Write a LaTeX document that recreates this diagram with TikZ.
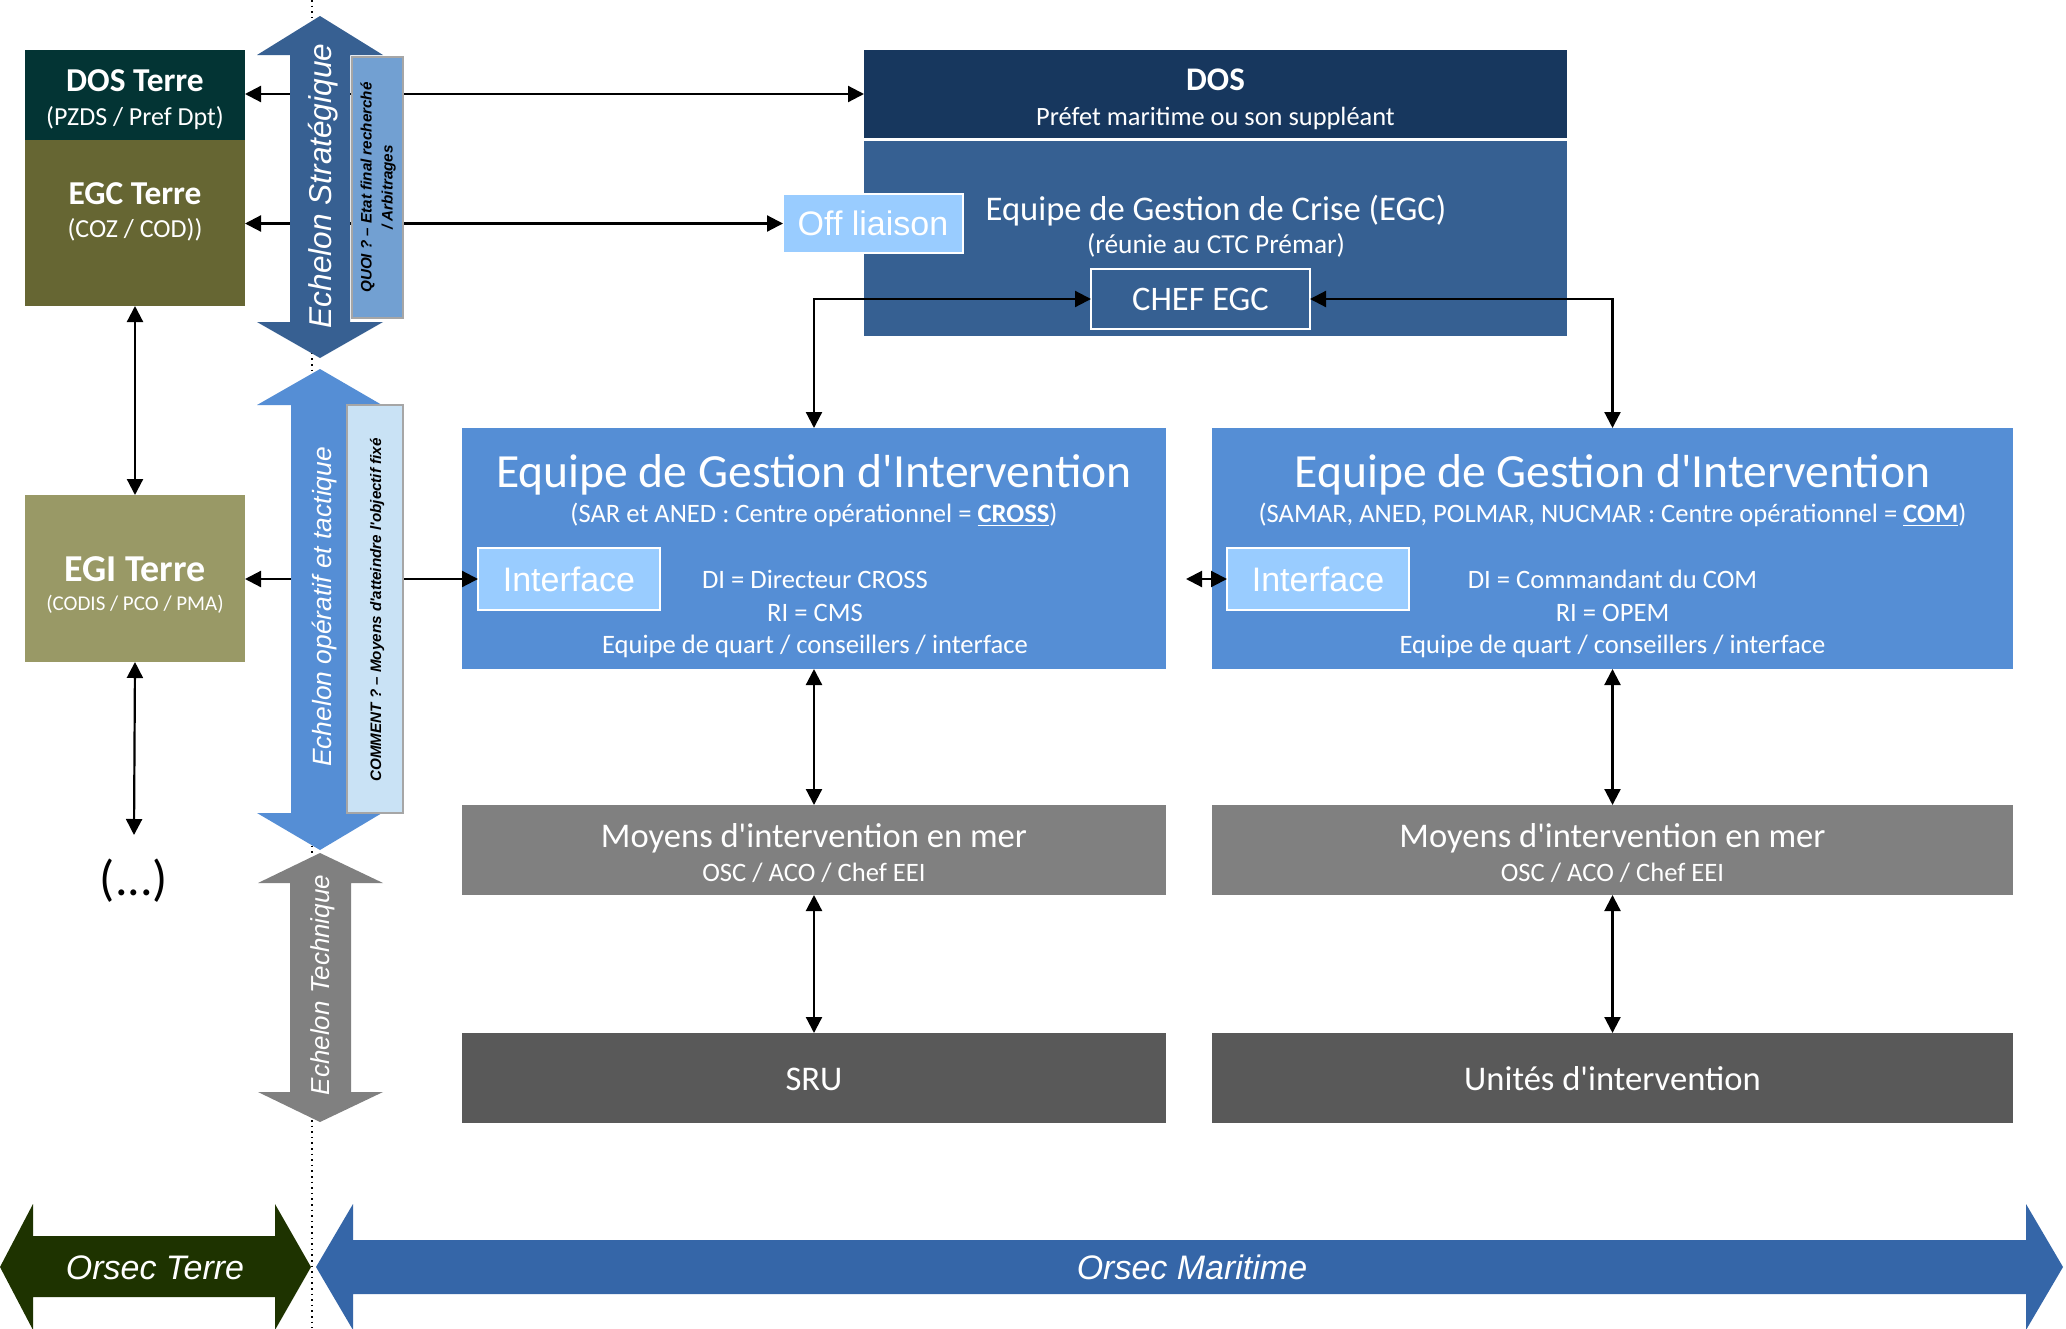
\documentclass[tikz,border=0pt]{standalone}
\usepackage{fontspec}
\setmainfont{Carlito}
\newfontfamily\arial{Liberation Sans}
\usetikzlibrary{arrows.meta}
\definecolor{cDosT}{HTML}{033434}
\definecolor{cEgcT}{HTML}{666633}
\definecolor{cEgiT}{HTML}{999966}
\definecolor{cDos}{HTML}{17375E}
\definecolor{cEgc}{HTML}{366092}
\definecolor{cLight}{HTML}{99CCFF}
\definecolor{cEgi}{HTML}{558ED5}
\definecolor{cMoy}{HTML}{808080}
\definecolor{cSru}{HTML}{595959}
\definecolor{cStrat}{HTML}{376092}
\definecolor{cOper}{HTML}{558ED5}
\definecolor{cTech}{HTML}{808080}
\definecolor{cQuoi}{HTML}{72A0D2}
\definecolor{cComm}{HTML}{C9E2F5}
\definecolor{cOT}{HTML}{1E3300}
\definecolor{cOM}{HTML}{3566A8}
\newcommand\fsz[1]{\fontsize{#1pt}{#1pt}\selectfont}
% text node placed by its visual centre: name, x, y, size(pt), font, text
\newcommand\tx[6]{\node[wtxt, anchor=base, font=#5\fsz{#4}] (#1) at (#2,{#3+0.72*#4}) {#6};}
% rotated (reading upwards) text node by visual centre
\newcommand\rtx[6]{\node[wtxt, anchor=base, rotate=90, font=#5\fsz{#4}] (#1) at ({#2+0.70*#4},#3) {#6};}
\begin{document}
\begin{tikzpicture}[x=0.5pt,y=-0.5pt,
  boxn/.style={inner sep=0pt, outer sep=0pt},
  wtxt/.style={text=white, inner sep=0pt, align=center},
  conn/.style={line width=1.1pt, {Triangle[length=8pt,width=8pt]}-{Triangle[length=8pt,width=8pt]}},
  sidebox/.style={boxn, draw=gray!70, line width=0.8pt}]
\useasboundingbox (0,0) rectangle (2066,1328);
\fill[white] (0,0) rectangle (2066,1328);
% dotted separator
\draw[dotted, line width=0.8pt] (312,0) -- (312,1328);

% ---- left (Terre) boxes
\node[boxn, fill=cDosT, minimum width=110pt, minimum height=45pt] (dosT) at (135,95) {};
\node[boxn, fill=cEgcT, minimum width=110pt, minimum height=83pt] (egcT) at (135,223) {};
\node[boxn, fill=cEgiT, minimum width=110pt, minimum height=83.5pt] (egiT) at (135,578.5) {};
\node[inner sep=0pt, anchor=base, font=\fsz{25}] (etc) at (134,895) {(...)};
\coordinate (etcTop) at (134,835);

% ---- maritime boxes
\node[boxn, fill=cDos, minimum width=351.5pt, minimum height=44pt] (dos) at (1215.5,94) {};
\node[boxn, fill=cEgc, minimum width=351.5pt, minimum height=97.5pt] (egc) at (1215.5,238.5) {};
\node[boxn, fill=cLight, draw=white, line width=1pt, minimum width=90pt, minimum height=29.5pt, text=white, font=\arial\fsz{17}] (offl) at (873,223.5) {Off liaison};
\node[boxn, fill=cEgc, draw=white, line width=1pt, minimum width=109.5pt, minimum height=30pt, text=white, font=\fsz{17.2}] (chef) at (1200.5,299) {CHEF EGC};

\node[boxn, fill=cEgi, minimum width=352pt, minimum height=120.5pt] (egi1) at (814,548.5) {};
\node[boxn, fill=cEgi, minimum width=400.5pt, minimum height=120.5pt] (egi2) at (1612.5,548.5) {};
\node[boxn, fill=cLight, draw=white, line width=1pt, minimum width=91pt, minimum height=31pt, text=white, font=\arial\fsz{17}] (int1) at (569,579) {Interface};
\node[boxn, fill=cLight, draw=white, line width=1pt, minimum width=91pt, minimum height=31pt, text=white, font=\arial\fsz{17}] (int2) at (1318,579) {Interface};
\coordinate (egiLink) at (1186,579);

\node[boxn, fill=cMoy, minimum width=352pt, minimum height=45pt] (moy1) at (814,850) {};
\node[boxn, fill=cMoy, minimum width=400.5pt, minimum height=45pt] (moy2) at (1612.5,850) {};
\node[boxn, fill=cSru, minimum width=352pt, minimum height=45pt] (sru) at (814,1078) {};
\node[boxn, fill=cSru, minimum width=400.5pt, minimum height=45pt] (uni) at (1612.5,1078) {};

% ---- connectors
\draw[conn] (dosT.east |- dos.west) -- (dos.west);
\draw[conn] (egcT.east |- offl.west) -- (offl.west);
\draw[conn] (egiT.east |- int1.west) -- (int1.west);
\draw[conn] (egcT.south) -- (egiT.north);
\draw[conn] (egiT.south) -- (etcTop);
\draw[conn] (chef.west) -| (egi1.north);
\draw[conn] (chef.east) -| (egi2.north);
\draw[conn] (egiLink) -- (int2.west);
\draw[conn] (egi1.south) -- (moy1.north);
\draw[conn] (moy1.south) -- (sru.north);
\draw[conn] (egi2.south) -- (moy2.north);
\draw[conn] (moy2.south) -- (uni.north);

% ---- echelon arrows
\fill[cStrat] (320,16) -- (383,55) -- (350,55) -- (350,322) -- (383,322) -- (320,358) -- (257,322) -- (290,322) -- (290,55) -- (257,55) -- cycle;
\fill[cOper] (320,369) -- (382,405) -- (350,405) -- (350,813) -- (382,813) -- (320,850) -- (257,813) -- (291,813) -- (291,405) -- (257,405) -- cycle;
\fill[cTech] (320,853) -- (383,883) -- (351,883) -- (351,1092) -- (383,1092) -- (320,1122) -- (258,1092) -- (290,1092) -- (290,883) -- (258,883) -- cycle;
\node[sidebox, fill=cQuoi, minimum width=25.5pt, minimum height=130.5pt] (quoi) at (377.5,187.5) {};
\node[sidebox, fill=cComm, minimum width=28pt, minimum height=204pt] (comm) at (375,609) {};

% ---- bottom Orsec arrows
\fill[cOT] (0,1267) -- (33,1204) -- (33,1236) -- (275,1236) -- (275,1204) -- (311,1267) -- (275,1330) -- (275,1297) -- (33,1297) -- (33,1330) -- cycle;
\fill[cOM] (316,1267) -- (353,1204) -- (353,1240) -- (2026,1240) -- (2026,1204) -- (2063,1267) -- (2026,1330) -- (2026,1294) -- (353,1294) -- (353,1330) -- cycle;

% ---- texts
\tx{dosTa}{135}{79}{16.7}{\bfseries}{DOS Terre}
\tx{dosTb}{135}{116}{13}{}{(PZDS / Pref Dpt)}
\tx{egcTa}{135}{192}{16.7}{\bfseries}{EGC Terre}
\tx{egcTb}{135}{228}{13}{}{(COZ / COD))}
\tx{egiTa}{135}{568}{19}{\bfseries}{EGI Terre}
\tx{egiTb}{135}{603}{10.5}{}{(CODIS / PCO / PMA)}

\tx{dosa}{1215.5}{79}{16.5}{\bfseries}{DOS}
\tx{dosb}{1215.5}{116}{13.2}{}{Préfet maritime ou son suppléant}
\tx{egca}{1216}{208}{17.3}{}{Equipe de Gestion de Crise (EGC)}
\tx{egcb}{1216}{244}{13.7}{}{(réunie au CTC Prémar)}

\tx{egi1a}{814}{470}{23.8}{}{Equipe de Gestion d\textquotesingle Intervention}
\tx{egi1b}{814}{513}{13.3}{}{(SAR et ANED : Centre opérationnel = \underline{\textbf{CROSS}})}
\tx{egi1c}{815}{579}{13.3}{}{DI = Directeur CROSS}
\tx{egi1d}{815}{612}{13.3}{}{RI = CMS}
\tx{egi1e}{815}{644}{13.3}{}{Equipe de quart / conseillers / interface}

\tx{egi2a}{1612.5}{470}{23.8}{}{Equipe de Gestion d\textquotesingle Intervention}
\tx{egi2b}{1612.5}{513}{13.3}{}{(SAMAR, ANED, POLMAR, NUCMAR : Centre opérationnel = \underline{\textbf{COM}})}
\tx{egi2c}{1612.5}{579}{13.3}{}{DI = Commandant du COM}
\tx{egi2d}{1612.5}{612}{13.3}{}{RI = OPEM}
\tx{egi2e}{1612.5}{644}{13.3}{}{Equipe de quart / conseillers / interface}

\tx{moy1a}{814}{835}{17.3}{}{Moyens d\textquotesingle intervention en mer}
\tx{moy1b}{814}{872}{13.3}{}{OSC / ACO / Chef EEI}
\tx{moy2a}{1612.5}{835}{17.3}{}{Moyens d\textquotesingle intervention en mer}
\tx{moy2b}{1612.5}{872}{13.3}{}{OSC / ACO / Chef EEI}
\tx{srut}{814}{1078}{17.3}{}{SRU}
\tx{unit}{1612.5}{1078}{17.3}{}{Unités d\textquotesingle intervention}

\rtx{echS}{320}{186}{15.8}{\arial\itshape}{Echelon Stratégique}
\rtx{echO}{322}{607}{13.2}{\arial\itshape}{Echelon opératif et tactique}
\rtx{echT}{320}{985}{13}{\arial\itshape}{Echelon Technique}
\node[inner sep=0pt, rotate=90, align=center, font=\arial\bfseries\itshape\fontsize{7.6pt}{10.5pt}\selectfont] (quoit) at (378,187.5) {QUOI ? – Etat final recherché\\/ Arbitrages};
\node[inner sep=0pt, rotate=90, font=\arial\bfseries\itshape\fsz{7.6}] (commt) at (377,610) {COMMENT ? – Moyens d\textquotesingle atteindre l\textquotesingle objectif fixé};

\tx{ot}{155}{1267}{17}{\arial\itshape}{Orsec Terre}
\tx{om}{1192}{1267}{17}{\arial\itshape}{Orsec Maritime}
\end{tikzpicture}
\end{document}
